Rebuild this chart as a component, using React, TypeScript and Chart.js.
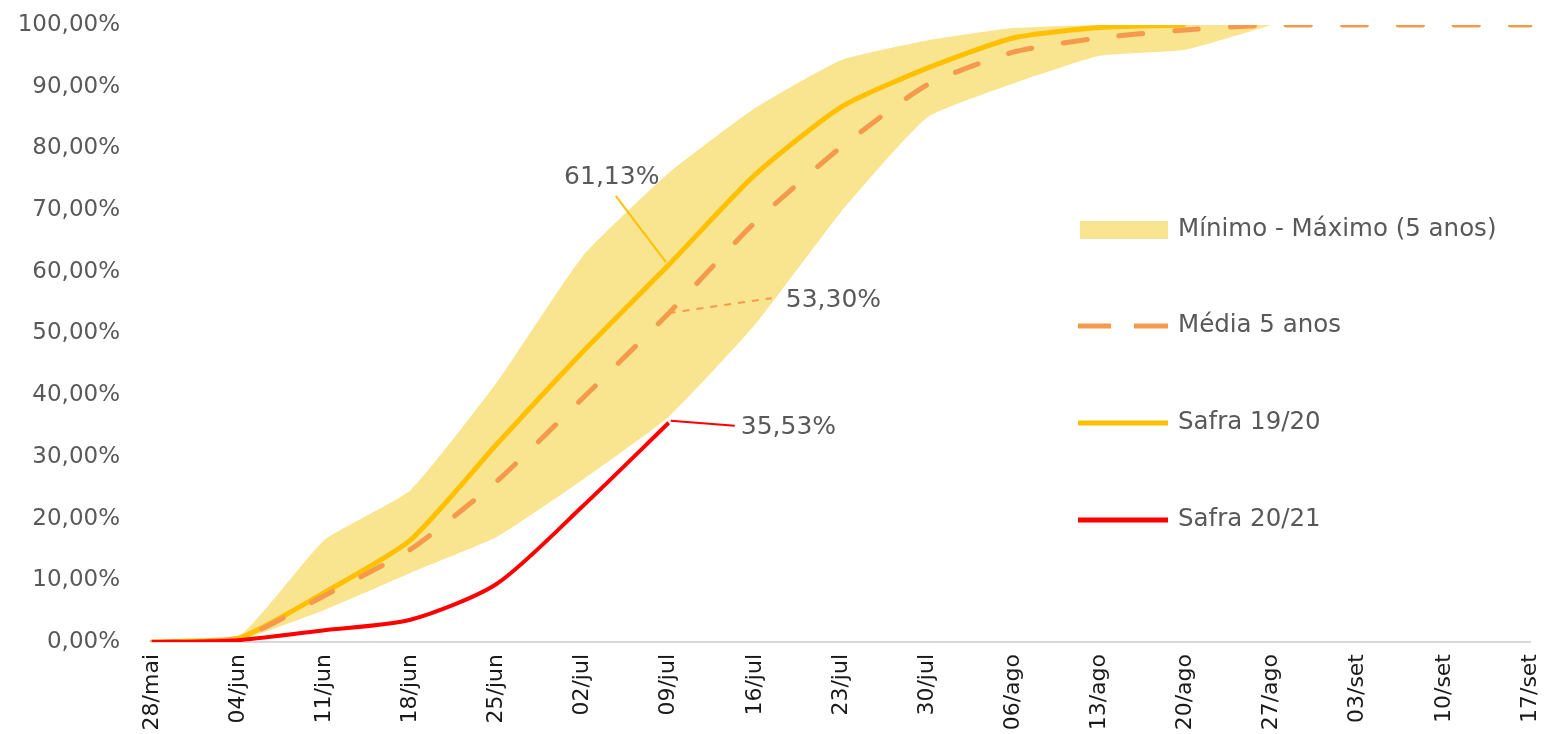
import React, { useEffect, useRef } from 'react';
import { Chart, registerables } from 'chart.js';

Chart.register(...registerables);

const categories = ['28/mai', '04/jun', '11/jun', '18/jun', '25/jun', '02/jul', '09/jul', '16/jul', '23/jul', '30/jul', '06/ago', '13/ago', '20/ago', '27/ago', '03/set', '10/set', '17/set'];
const maxValues = [0, 0.8, 16.5, 24.6, 42, 62.5, 76, 86.5, 94.3, 97.5, 99.5, 100, 100, 100, null, null, null];
const minValues = [0, 0.3, 5.2, 11.2, 17, 26.3, 36.5, 51.4, 69.7, 85, 90.5, 95, 96, 100, null, null, null];
const media5 = [0, 0.5, 7.5, 15, 26, 39.5, 53.3, 68, 80.2, 90.3, 95.6, 97.9, 99.2, 100, 100, 100, 100];
const safra1920 = [0, 0.6, 8, 16.5, 32, 47, 61.13, 75.7, 86.7, 93, 97.9, 99.6, 100, null, null, null, null];
const safra2021 = [0, 0.3, 1.9, 3.6, 9.4, 22, 35.53, null, null, null, null, null, null, null, null, null, null];
const yTicks = [0, 10, 20, 30, 40, 50, 60, 70, 80, 90, 100];

const seriesNames = ['Mínimo - Máximo (5 anos)', 'Média 5 anos', 'Safra 19/20', 'Safra 20/21'];
const annotationIndex = 6;
const annotationTexts = ['61,13%', '53,30%', '35,53%'];

const BAND = '#F9E48F';
const ORANGE = '#F59A4C';
const YELLOW = '#FFC000';
const RED = '#FF0000';
const TEXT = '#595959';
const FONT = '"DejaVu Sans", sans-serif';

const fmt = (v: number) => v.toFixed(2).replace('.', ',') + '%';

const overlayPlugin = {
  id: 'overlay',
  afterDatasetsDraw(chart: any) {
    const ctx = chart.ctx;
    const xs = chart.scales.x;
    const ys = chart.scales.y;
    const px = xs.getPixelForValue(annotationIndex);
    const p1 = ys.getPixelForValue(safra1920[annotationIndex] as number);
    const p2 = ys.getPixelForValue(media5[annotationIndex] as number);
    const p3 = ys.getPixelForValue(safra2021[annotationIndex] as number);
    ctx.save();
    ctx.lineWidth = 2;
    ctx.strokeStyle = YELLOW;
    ctx.beginPath();
    ctx.moveTo(px - 3, p1 - 3);
    ctx.lineTo(px - 53, p1 - 69);
    ctx.stroke();

    ctx.strokeStyle = ORANGE;
    ctx.setLineDash([7, 7]);
    ctx.beginPath();
    ctx.moveTo(px, p2);
    ctx.lineTo(px + 103, p2 - 15);
    ctx.stroke();
    ctx.setLineDash([]);

    ctx.strokeStyle = RED;
    ctx.beginPath();
    ctx.moveTo(px + 2, p3 - 2);
    ctx.lineTo(px + 66, p3 + 3);
    ctx.stroke();

    ctx.fillStyle = TEXT;
    ctx.font = '25px ' + FONT;
    ctx.textBaseline = 'middle';
    ctx.textAlign = 'center';
    ctx.fillText(annotationTexts[0], px - 57, p1 - 87);
    ctx.textAlign = 'left';
    ctx.fillText(annotationTexts[1], px + 117, p2 - 13);
    ctx.fillText(annotationTexts[2], px + 72, p3 + 5);

    const lx = 1078;
    const tx = 1178;
    const ysL = [230, 326, 423, 520];
    ctx.fillStyle = BAND;
    ctx.fillRect(lx + 2, ysL[0] - 9, 88, 18);

    ctx.lineWidth = 5;
    ctx.strokeStyle = ORANGE;
    ctx.beginPath();
    ctx.moveTo(lx, ysL[1]);
    ctx.lineTo(lx + 33, ysL[1]);
    ctx.moveTo(lx + 56, ysL[1]);
    ctx.lineTo(lx + 90, ysL[1]);
    ctx.stroke();

    ctx.strokeStyle = YELLOW;
    ctx.beginPath();
    ctx.moveTo(lx, ysL[2]);
    ctx.lineTo(lx + 90, ysL[2]);
    ctx.stroke();

    ctx.strokeStyle = RED;
    ctx.beginPath();
    ctx.moveTo(lx, ysL[3]);
    ctx.lineTo(lx + 90, ysL[3]);
    ctx.stroke();

    ctx.fillStyle = TEXT;
    ctx.font = '24.5px ' + FONT;
    ctx.textAlign = 'left';
    ctx.textBaseline = 'middle';
    seriesNames.forEach((n, i) => ctx.fillText(n, tx, ysL[i]));
    ctx.restore();
  },
};

export default function App() {
  const ref = useRef<HTMLCanvasElement | null>(null);
  useEffect(() => {
    document.body.style.margin = '0';
    const canvas = ref.current;
    if (!canvas) return;
    const chart = new Chart(canvas, {
      type: 'line',
      data: {
        labels: categories,
        datasets: [
          {
            label: seriesNames[3],
            data: safra2021,
            borderColor: RED,
            borderWidth: 4,
            pointRadius: 0,
            tension: 0.25,
            fill: false,
            order: 0,
          },
          {
            label: seriesNames[1],
            data: media5,
            borderColor: ORANGE,
            borderWidth: 5,
            borderDash: [24, 32],
            borderCapStyle: 'round',
            pointRadius: 0,
            tension: 0.2,
            fill: false,
            order: 1,
          },
          {
            label: seriesNames[2],
            data: safra1920,
            borderColor: YELLOW,
            borderWidth: 5,
            pointRadius: 0,
            tension: 0.2,
            fill: false,
            order: 2,
          },
          {
            label: 'max',
            data: maxValues,
            borderWidth: 0,
            borderColor: 'rgba(0,0,0,0)',
            backgroundColor: BAND,
            pointRadius: 0,
            tension: 0.15,
            fill: '+1',
            order: 3,
          },
          {
            label: 'min',
            data: minValues,
            borderWidth: 0,
            borderColor: 'rgba(0,0,0,0)',
            backgroundColor: BAND,
            pointRadius: 0,
            tension: 0.15,
            fill: false,
            order: 4,
          },
        ] as any,
      },
      options: {
        responsive: false,
        animation: false,
        devicePixelRatio: 1,
        layout: { padding: { top: 25, right: 14, left: 0, bottom: 0 } },
        plugins: {
          legend: { display: false },
          tooltip: { enabled: false },
        },
        scales: {
          x: {
            grid: { display: false, drawTicks: false },
            border: { display: true, color: '#D9D9D9', width: 2 },
            ticks: {
              autoSkip: false,
              minRotation: 90,
              maxRotation: 90,
              padding: 12,
              color: '#1A1A1A',
              font: { family: FONT, size: 22 },
            },
            afterFit: (s: any) => {
              s.height = 92;
              s.paddingLeft = 0;
              s.paddingRight = 0;
            },
          },
          y: {
            min: 0,
            max: 100,
            grid: { display: false, drawTicks: false },
            border: { display: false },
            afterBuildTicks: (s: any) => {
              s.ticks = yTicks.map((v) => ({ value: v }));
            },
            ticks: {
              padding: 32,
              color: TEXT,
              font: { family: FONT, size: 23 },
              callback: (v: any) => fmt(Number(v)),
            },
            afterFit: (s: any) => {
              s.width = 152;
              s.paddingTop = 0;
              s.paddingBottom = 0;
            },
          },
        },
      },
      plugins: [overlayPlugin],
    });
    return () => chart.destroy();
  }, []);
  return (
    <div style={{ width: 1544, height: 734, background: '#fff' }}>
      <canvas ref={ref} width={1544} height={734} style={{ display: 'block' }} />
    </div>
  );
}
